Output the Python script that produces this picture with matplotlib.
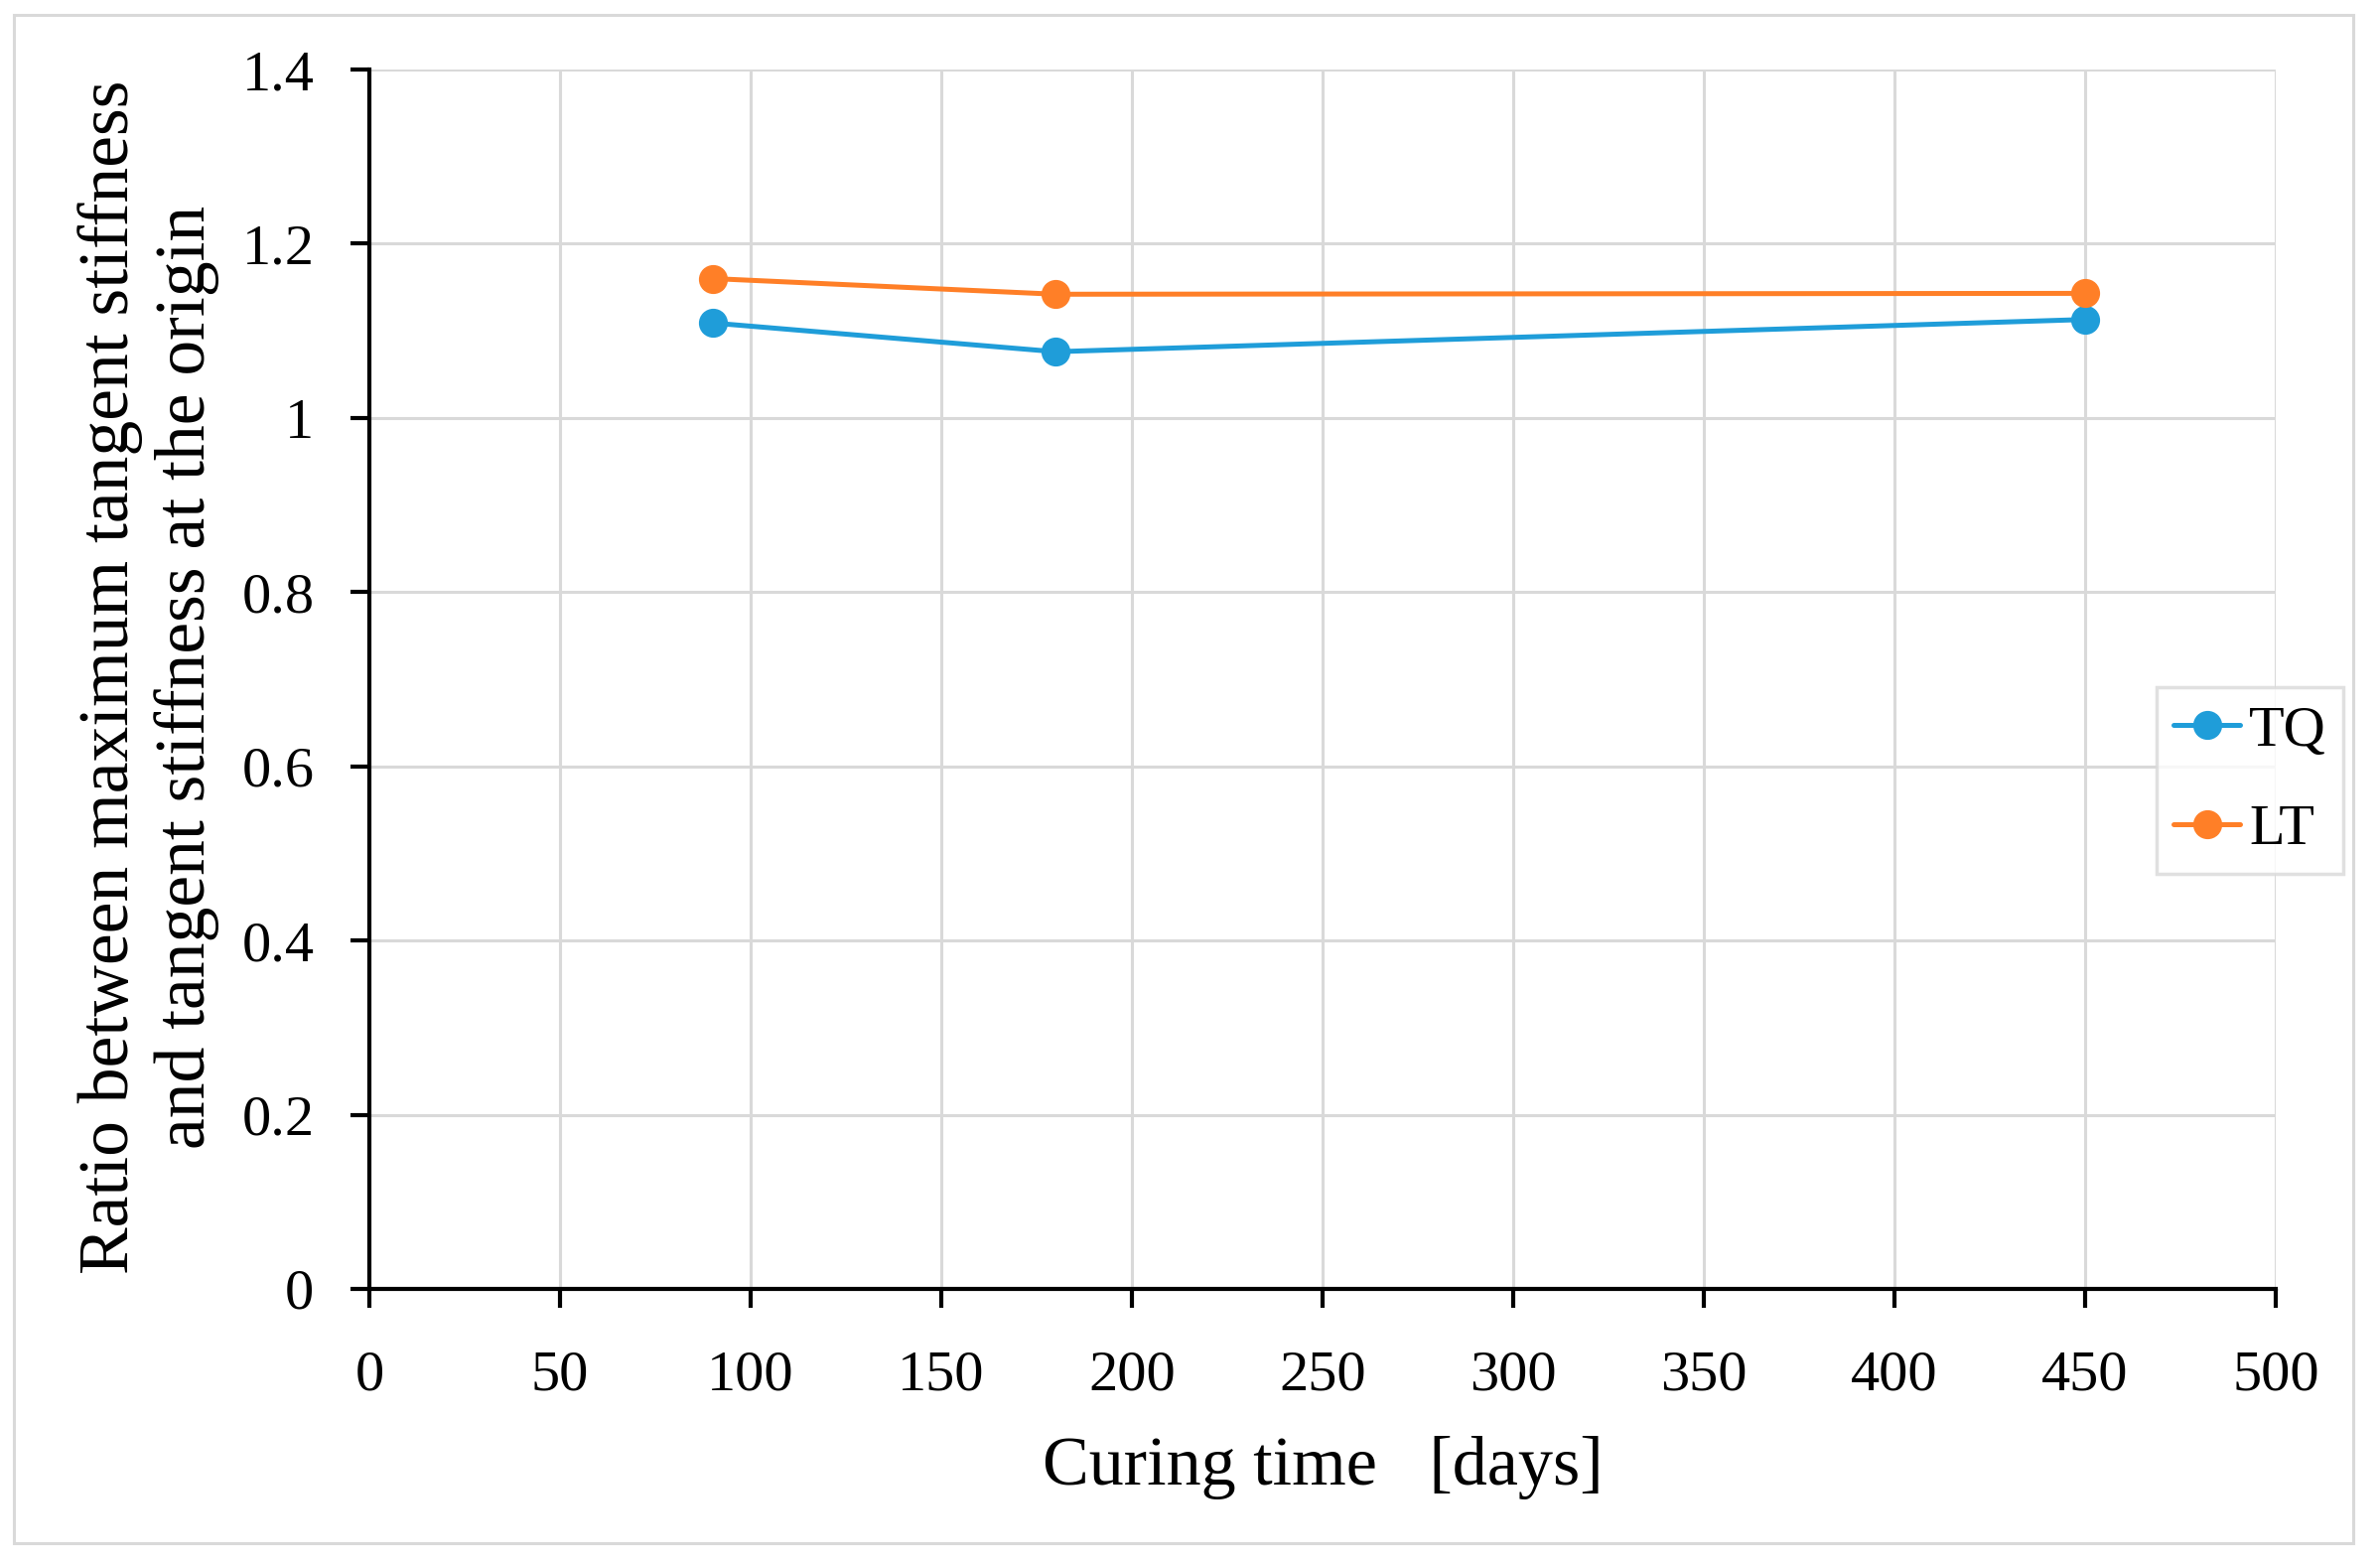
import matplotlib
matplotlib.use("Agg")
import matplotlib.pyplot as plt
from matplotlib.patches import Rectangle

# curing time [days] and stiffness ratio per series
days = [90, 180, 450]
tq = [1.109, 1.076, 1.113]
lt = [1.160, 1.142, 1.143]
series = {"TQ": (tq, "#1f9dd9"), "LT": (lt, "#ff7f27")}

x_ticks = [0, 50, 100, 150, 200, 250, 300, 350, 400, 450, 500]
y_ticks = [0, 0.2, 0.4, 0.6, 0.8, 1.0, 1.2, 1.4]
y_ticklabels = ["0", "0.2", "0.4", "0.6", "0.8", "1", "1.2", "1.4"]

plt.rcParams["font.family"] = ["Liberation Serif", "DejaVu Serif"]

W, H = 2397, 1574
fig = plt.figure(figsize=(W / 100, H / 100), dpi=100)
ax = fig.add_axes([372 / W, 1 - 1298 / H, (2292 - 372) / W, (1298 - 70) / H])

for name, (vals, col) in series.items():
    ax.plot(days, vals, color=col, lw=3.6, marker="o", ms=20, label=name,
            solid_capstyle="round", zorder=3)

ax.set_xlim(0, 500)
ax.set_ylim(0, 1.4)
ax.set_xticks(x_ticks)
ax.set_yticks(y_ticks)
ax.set_yticklabels(y_ticklabels)
ax.grid(True, color="#d9d9d9", lw=2.2, zorder=0)
ax.set_axisbelow(True)
for s in ["top", "right"]:
    ax.spines[s].set_visible(False)
for s in ["left", "bottom"]:
    ax.spines[s].set_linewidth(3)
ax.tick_params(axis="both", direction="out", length=14, width=3, labelsize=42)
ax.tick_params(axis="x", pad=30)
ax.tick_params(axis="y", pad=26)

fig.text(1332 / W, 1 - 1478 / H, "Curing time   [days]", fontsize=50.5,
         ha="center", va="center")
fig.text(150 / W, 1 - 682 / H,
         "Ratio between maximum tangent stiffness\nand tangent stiffness at the origin",
         fontsize=51.5, ha="center", va="center", rotation=90,
         multialignment="center", linespacing=1.22)

leg = ax.legend(loc="center", bbox_to_anchor=(2266 / W, 1 - 786 / H),
                bbox_transform=fig.transFigure, fontsize=42, frameon=True,
                fancybox=False, handlelength=1.15, handletextpad=0.15,
                borderpad=0.3, labelspacing=0.8, borderaxespad=0)
leg.get_frame().set_edgecolor("#d9d9d9")
leg.get_frame().set_linewidth(2.5)

fig.add_artist(Rectangle((14 / W, 1 - 1554 / H), (2370 - 14) / W, (1554 - 15) / H,
                         transform=fig.transFigure, fill=False,
                         edgecolor="#d9d9d9", lw=2.2))

fig.savefig("out.png", dpi=100)
